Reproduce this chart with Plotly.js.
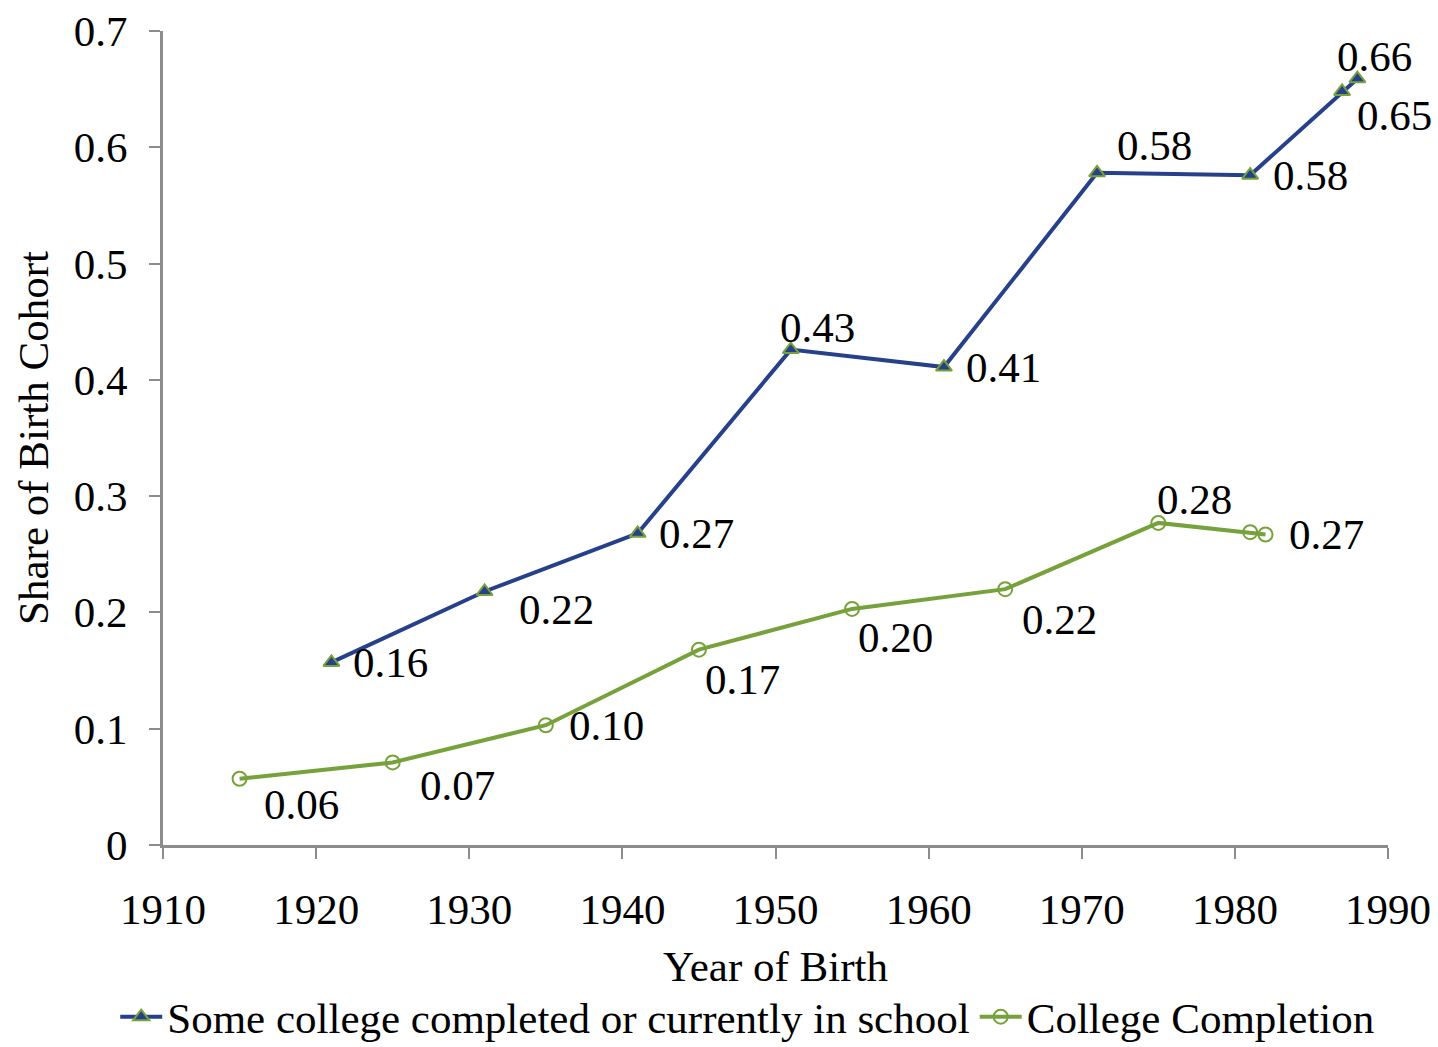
<!DOCTYPE html>
<html>
<head>
<meta charset="utf-8">
<script src="https://cdn.plot.ly/plotly-3.0.1.min.js"></script>
<style>html,body{margin:0;padding:0;background:#fff;}#chart{width:1438px;height:1047px;}</style>
</head>
<body>
<div id="chart"></div>
<script>
// ---- data ----
const someCollegeYears  = [1921, 1931, 1941, 1951, 1961, 1971, 1981, 1987, 1988];
const someCollegeShare  = [0.157, 0.218, 0.268, 0.426, 0.411, 0.578, 0.576, 0.648, 0.659];
const someCollegeLabels = ["0.16", "0.22", "0.27", "0.43", "0.41", "0.58", "0.58", "0.65", "0.66"];

const completionYears  = [1915, 1925, 1935, 1945, 1955, 1965, 1975, 1981, 1982];
const completionShare  = [0.057, 0.071, 0.103, 0.168, 0.203, 0.220, 0.277, 0.269, 0.267];
const completionLabels = ["0.06", "0.07", "0.10", "0.17", "0.20", "0.22", "0.28", "", "0.27"];

const xTickVals = [1910, 1920, 1930, 1940, 1950, 1960, 1970, 1980, 1990];
const yTickVals = [0, 0.1, 0.2, 0.3, 0.4, 0.5, 0.6, 0.7];
const yTickText = ["0", "0.1", "0.2", "0.3", "0.4", "0.5", "0.6", "0.7"];

const seriesNames = ["Some college completed or currently in school", "College Completion"];

// ---- styling ----
const FONT = "Liberation Serif, Times New Roman, serif";
const NAVY = "#26408a";
const GREEN = "#77a13b";
const FS = 43;

// label offsets in pixels [dx to left edge, dy down]
const someCollegeOffsets = [[20,0],[32,18],[19,0],[-13,-22],[20,0],[18,-27],[21,0],[13,24],[-22,-22]];
const completionOffsets  = [[22,26],[25,23],[21,0],[4,30],[4,29],[15,30],[-3,-23],[0,0],[21,0]];

function makeAnnotations(xs, ys, labels, offs) {
  const out = [];
  for (let i = 0; i < xs.length; i++) {
    if (!labels[i]) continue;
    out.push({
      x: xs[i], y: ys[i], xref: 'x', yref: 'y', text: labels[i],
      showarrow: false, xanchor: 'left', yanchor: 'middle',
      xshift: offs[i][0], yshift: -offs[i][1],
      font: {family: FONT, size: FS, color: '#000'}
    });
  }
  return out;
}

const traces = [
  {
    x: someCollegeYears, y: someCollegeShare, name: seriesNames[0],
    type: 'scatter', mode: 'lines+markers',
    line: {color: NAVY, width: 4},
    marker: {symbol: 'triangle-up', size: 14, color: NAVY, line: {color: GREEN, width: 2}}
  },
  {
    x: completionYears, y: completionShare, name: seriesNames[1],
    type: 'scatter', mode: 'lines+markers',
    line: {color: GREEN, width: 4},
    marker: {symbol: 'circle-open', size: 14, color: GREEN, line: {color: GREEN, width: 2}}
  }
];

const layout = {
  width: 1438, height: 1047,
  margin: {l: 163, r: 50, t: 31, b: 202, autoexpand: false},
  paper_bgcolor: '#fff', plot_bgcolor: '#fff',
  font: {family: FONT, size: FS, color: '#000'},
  showlegend: true,
  xaxis: {
    range: [1910, 1990], tickvals: xTickVals, ticktext: xTickVals.map(String),
    showgrid: false, zeroline: false, automargin: false,
    showline: true, linecolor: '#8c8c8c', linewidth: 3,
    ticks: 'outside', ticklen: 11, tickwidth: 2, tickcolor: '#8c8c8c',
    ticklabelstandoff: 13,
    tickfont: {family: FONT, size: FS, color: '#000'},
    title: {text: 'Year of Birth', font: {family: FONT, size: FS, color: '#000'}, standoff: 20}
  },
  yaxis: {
    range: [0, 0.7], tickvals: yTickVals, ticktext: yTickText,
    showgrid: false, zeroline: false, automargin: false,
    showline: true, linecolor: '#8c8c8c', linewidth: 3,
    ticks: 'outside', ticklen: 11, tickwidth: 2, tickcolor: '#8c8c8c',
    ticklabelstandoff: 13,
    tickfont: {family: FONT, size: FS, color: '#000'},
    title: {text: 'Share of Birth Cohort', font: {family: FONT, size: FS, color: '#000'}, standoff: 12}
  },
  legend: {
    orientation: 'h', x: -0.039, xanchor: 'left', y: -0.211, yanchor: 'middle',
    font: {family: FONT, size: FS, color: '#000'},
    itemwidth: 42, tracegroupgap: 0, bgcolor: 'rgba(0,0,0,0)'
  },
  annotations: makeAnnotations(someCollegeYears, someCollegeShare, someCollegeLabels, someCollegeOffsets)
    .concat(makeAnnotations(completionYears, completionShare, completionLabels, completionOffsets))
};

Plotly.newPlot('chart', traces, layout, {displayModeBar: false, staticPlot: true});
</script>
</body>
</html>
